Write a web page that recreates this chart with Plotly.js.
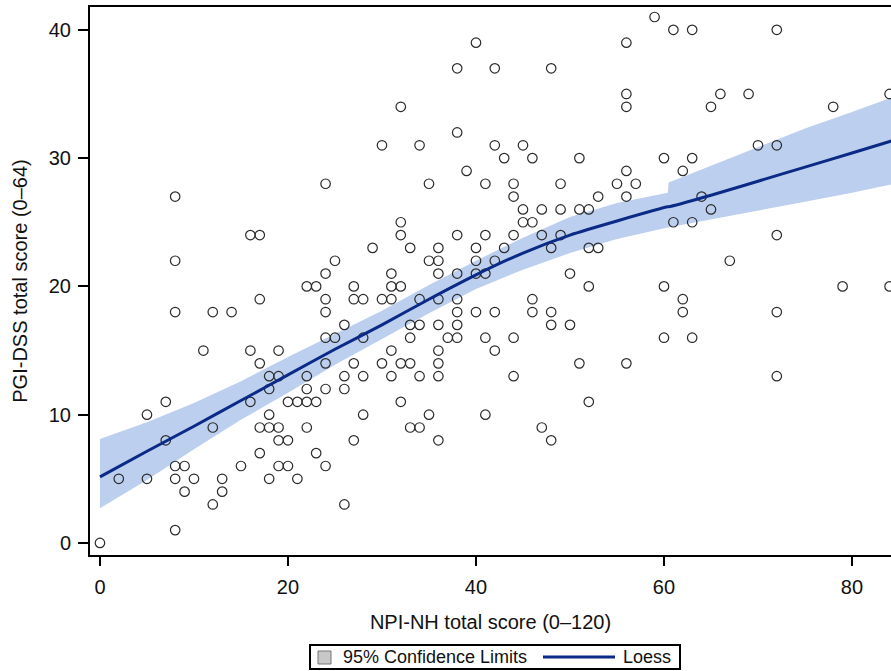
<!DOCTYPE html>
<html>
<head>
<meta charset="utf-8">
<script src="https://cdn.plot.ly/plotly-3.0.1.min.js"></script>
<style>html,body{margin:0;padding:0;background:#fff;}#chart{width:891px;height:671px;}</style>
</head>
<body>
<div id="chart"></div>
<script>
// NPI-NH total score (x) and PGI-DSS total score (y) for each resident
const npiScore = [
  8,8,16,17,17,
  8,12,14, 11,16,19, 17, 18,19, 18, 16,20,21,7, 5,18, 12,17,18,19, 7,19,20, 17,
  8,9,15,19,20, 2,5,8,10,13,18,21, 9,13, 12, 8, 0,
  22,23,27,31,32,
  24,27,28,30,31,34,36,38,46,
  24,38,40,42,46,48,
  26,33,34,36,38,48,50,
  24,25,28,33,37,38,41,44,
  31,36,42,
  24,27,30,32,33,36,51,
  22,26,28,31,34,36,44,
  22,24,26,
  22,23,32,
  28,35,41,
  22,33,34,47,
  27,36,48,
  23, 24, 26,
  52,60,79,84,62,62,72,60,63,56,72,52,
  40,38,42,48,32,38,30,34,42,45,43,46,51,39,24,35,41,44,49,44,45,47,49,51,45,46,32,32,38,41,
  44,47,49,29,33,36,40,43,48,25,35,36,40,42,24,31,36,38,40,41,50,
  59,61,63,72,56,56,56,66,69,65,78,84,70,72,60,63,56,62,55,57,53,56,64,52,65,61,63,72,52,53,67
];
const pgiScore = [
  27,22,24,24,19,
  18,18,18, 15,15,15, 14, 13,13, 12, 11,11,11,11, 10,10, 9,9,9,9, 8,8,8, 7,
  6,6,6,6,6, 5,5,5,5,5,5,5, 4,4, 3, 1, 0,
  20,20,20,20,20,
  19,19,19,19,19,19,19,19,19,
  18,18,18,18,18,18,
  17,17,17,17,17,17,17,
  16,16,16,16,16,16,16,16,
  15,15,15,
  14,14,14,14,14,14,14,
  13,13,13,13,13,13,13,
  12,12,12,
  11,11,11,
  10,10,10,
  9,9,9,9,
  8,8,8,
  7, 6, 3,
  20,20,20,20,19,18,18,16,16,14,13,11,
  39,37,37,37,34,32,31,31,31,31,30,30,30,29,28,28,28,28,28,27,26,26,26,26,25,25,25,24,24,24,
  24,24,24,23,23,23,23,23,23,22,22,22,22,22,21,21,21,21,21,21,21,
  41,40,40,40,39,35,34,35,35,34,34,35,31,31,30,30,29,29,28,28,27,27,27,26,26,25,25,24,23,23,22
];

// Loess fit and 95% confidence limits
const loessX  = [0, 5, 10, 15, 20, 25, 30, 35, 40, 45, 50, 55, 60.4, 60.5, 65, 70, 75, 80, 84.5];
const loessY  = [5.15, 7.15, 9.1, 11.1, 13.1, 15.1, 17.0, 19.0, 20.9, 22.6, 24.0, 25.1, 26.2, 26.2, 27.1, 28.2, 29.3, 30.4, 31.4];
const ciUpper = [8.1, 9.4, 10.9, 12.6, 14.5, 16.3, 18.1, 20.1, 22.0, 23.8, 25.4, 26.5, 27.3, 28.1, 29.4, 30.9, 32.3, 33.6, 34.8];
const ciLower = [2.7, 4.9, 7.3, 9.6, 11.7, 13.9, 15.9, 17.9, 19.8, 21.3, 22.6, 23.7, 24.6, 24.6, 25.2, 25.9, 26.6, 27.3, 28.0];

const xTicks = [0, 20, 40, 60, 80];
const yTicks = [0, 10, 20, 30, 40];
const legendLabels = ['95% Confidence Limits', 'Loess'];

const FONT = 'Liberation Sans, Arial, sans-serif';
const BAND = '#bccfef';
const LINE = '#0b2a86';

const bandX = loessX.concat(loessX.slice().reverse());
const bandY = ciUpper.concat(ciLower.slice().reverse());

const traces = [
  {
    type: 'scatter', mode: 'lines', x: bandX, y: bandY,
    fill: 'toself', fillcolor: BAND, line: {width: 0, color: BAND},
    name: legendLabels[0], showlegend: false, hoverinfo: 'skip'
  },
  {
    type: 'scatter', mode: 'markers', x: npiScore, y: pgiScore,
    marker: {symbol: 'circle-open', size: 9.5, color: '#2a2a2a', line: {width: 1.2, color: '#2a2a2a'}},
    showlegend: false
  },
  {
    type: 'scatter', mode: 'lines', x: loessX, y: loessY,
    line: {color: LINE, width: 3, shape: 'spline', smoothing: 0.6},
    name: legendLabels[1], showlegend: false
  }
];

// legend box drawn below the plot (paper coordinates)
const P = (px) => (px - 90) / 801;      // horizontal pixel -> paper x
const Q = (py) => (555 - py) / 548;     // vertical pixel -> paper y
const shapes = [
  {type: 'rect', xref: 'paper', yref: 'paper', x0: P(310), x1: P(680), y0: Q(669), y1: Q(645),
   line: {color: '#000', width: 2}, fillcolor: '#fff', layer: 'above'},
  {type: 'rect', xref: 'paper', yref: 'paper', x0: P(318), x1: P(331), y0: Q(664), y1: Q(651),
   line: {color: '#777', width: 1}, fillcolor: '#c8c8c8', layer: 'above'},
  {type: 'line', xref: 'paper', yref: 'paper', x0: P(543), x1: P(615), y0: Q(657), y1: Q(657),
   line: {color: LINE, width: 3}, layer: 'above'}
];
const annotations = [
  {xref: 'paper', yref: 'paper', x: P(341), y: Q(657), xanchor: 'left', yanchor: 'middle',
   text: legendLabels[0], showarrow: false, font: {family: FONT, size: 18, color: '#111'}},
  {xref: 'paper', yref: 'paper', x: P(621), y: Q(657), xanchor: 'left', yanchor: 'middle',
   text: legendLabels[1], showarrow: false, font: {family: FONT, size: 18, color: '#111'}}
];

const layout = {
  width: 891, height: 671,
  margin: {l: 90, r: 0, t: 7, b: 116, pad: 0},
  paper_bgcolor: '#ffffff', plot_bgcolor: '#ffffff',
  font: {family: FONT, color: '#111', size: 18},
  showlegend: false,
  shapes: shapes,
  annotations: annotations,
  xaxis: {
    range: [-1.06, 84.15], tickvals: xTicks, ticktext: xTicks.map(String),
    ticks: 'outside', ticklen: 9, tickwidth: 2, tickcolor: '#000',
    ticklabelstandoff: 4,
    showline: true, linewidth: 2, linecolor: '#000', mirror: true,
    showgrid: false, zeroline: false,
    tickfont: {family: FONT, size: 20, color: '#111'},
    title: {text: 'NPI-NH total score (0–120)', font: {family: FONT, size: 20, color: '#111'}, standoff: 18}
  },
  yaxis: {
    range: [-0.94, 41.78], tickvals: yTicks, ticktext: yTicks.map(String),
    ticks: 'outside', ticklen: 10, tickwidth: 2, tickcolor: '#000',
    ticklabelstandoff: 3,
    showline: true, linewidth: 2, linecolor: '#000', mirror: false,
    showgrid: false, zeroline: false,
    tickfont: {family: FONT, size: 20, color: '#111'},
    title: {text: 'PGI-DSS total score (0–64)', font: {family: FONT, size: 20, color: '#111'}, standoff: 16}
  }
};

Plotly.newPlot('chart', traces, layout, {staticPlot: true, displayModeBar: false});
</script>
</body>
</html>
